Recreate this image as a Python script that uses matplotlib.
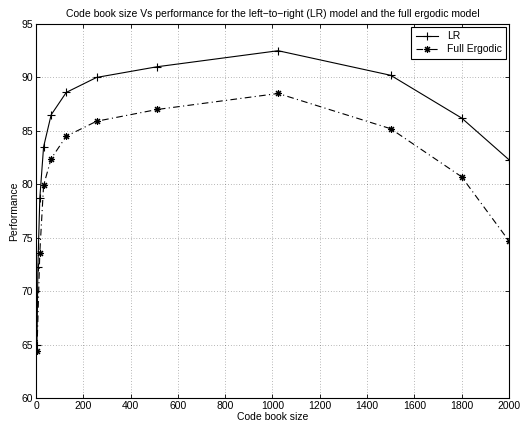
import matplotlib
matplotlib.use("Agg")
import matplotlib.pyplot as plt

plt.rcParams["font.family"] = ["Liberation Sans", "DejaVu Sans"]

# values
lr_size = [4, 8, 16, 32, 64, 128, 256, 512, 1024, 1500, 1800, 2000]
lr_perf = [65.0, 72.3, 78.7, 83.5, 86.5, 88.6, 90.0, 91.0, 92.5, 90.2, 86.2, 82.3]
erg_size = [4, 16, 32, 64, 128, 256, 512, 1024, 1500, 1800, 2000]
erg_perf = [64.4, 73.6, 79.9, 82.4, 84.5, 85.9, 87.0, 88.5, 85.2, 80.7, 74.7]
xticks = list(range(0, 2001, 200))
yticks = list(range(60, 96, 5))

fig = plt.figure(figsize=(5.22, 4.25), dpi=100)
ax = fig.add_axes([0.069, 0.0635, 0.906, 0.88])

ax.plot(lr_size, lr_perf, color="black", lw=0.8, marker="+", ms=6,
        mew=0.8, label="LR")
ax.plot(erg_size, erg_perf, color="black", lw=0.8, ls=(0, (6, 3, 1, 3)),
        marker=(8, 2, 0), ms=5, mew=0.8, label="Full Ergodic")

ax.set_xlim(0, 2000)
ax.set_ylim(60, 95)
ax.set_xticks(xticks)
ax.set_yticks(yticks)
ax.tick_params(direction="in", top=True, right=True, labelsize=7.5,
               length=3, width=0.6, pad=2)
ax.grid(True, color="black", ls=(0, (1, 3)), lw=0.5, alpha=0.55)
for s in ax.spines.values():
    s.set_linewidth(0.8)

ax.set_xlabel("Code book size", fontsize=7.5, labelpad=1)
ax.set_ylabel("Performance", fontsize=7.5, labelpad=2)
ax.set_title("Code book size Vs performance for the left\u2212to\u2212right (LR) model "
             "and the full ergodic model", fontsize=7.5, pad=5)

leg = ax.legend(loc="upper right", fontsize=7.5, fancybox=False,
                edgecolor="black", framealpha=1, handlelength=2.2,
                borderaxespad=0.3, borderpad=0.4, labelspacing=0.3)
leg.get_frame().set_linewidth(0.8)

fig.savefig("out.png", dpi=100)
